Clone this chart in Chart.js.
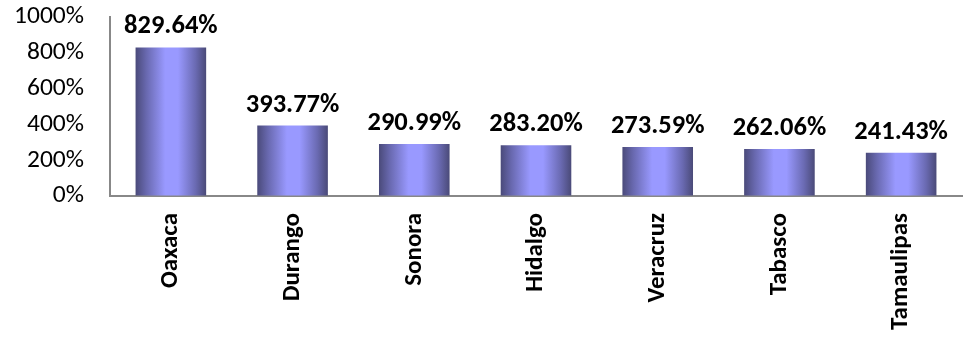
<!DOCTYPE html>
<html><head><meta charset="utf-8">
<script src="https://cdn.jsdelivr.net/npm/chart.js@4/dist/chart.umd.min.js"></script>
<style>html,body{margin:0;padding:0;background:#fff}#wrap{width:967px;height:338px;position:relative}</style>
</head><body><div id="wrap"><canvas id="c"></canvas></div>
<script>
const categories = ["Oaxaca","Durango","Sonora","Hidalgo","Veracruz","Tabasco","Tamaulipas"];
const values = [829.64, 393.77, 290.99, 283.20, 273.59, 262.06, 241.43];
const yTicks = [0, 200, 400, 600, 800, 1000];

const FONT = "Carlito, Calibri, Lato, 'Open Sans', sans-serif";
const BAR_PCT = 0.58;

// choose font sizes so that reference text widths are matched
const mctx = document.createElement('canvas').getContext('2d');
function fitSize(text, weight, targetW) {
  mctx.font = weight + " 100px " + FONT;
  return Math.round(100 * targetW / mctx.measureText(text).width * 2) / 2;
}
const TICK_SIZE = fitSize("1000%", "normal", 70);
const XLAB_SIZE = fitSize("Tamaulipas", "bold", 118);
const VAL_SIZE = fitSize("829.64%", "bold", 94);

function barGradient(ctx) {
  const chart = ctx.chart;
  const xs = chart.scales.x;
  if (!xs) return '#8888ee';
  const cx = xs.getPixelForValue(ctx.dataIndex);
  const w = xs.width / categories.length * BAR_PCT;
  if (!isFinite(cx) || !isFinite(w) || w <= 0) return '#8888ee';
  const g = chart.ctx.createLinearGradient(cx - w / 2, 0, cx + w / 2, 0);
  g.addColorStop(0, '#4a4a7a');
  g.addColorStop(0.15, '#6868ae');
  g.addColorStop(0.42, '#9999ff');
  g.addColorStop(0.6, '#9999ff');
  g.addColorStop(0.85, '#6a6ab2');
  g.addColorStop(1, '#4a4a78');
  return g;
}

const labelPlugin = {
  id: 'valueLabels',
  afterDatasetsDraw(chart) {
    const meta = chart.getDatasetMeta(0);
    const c = chart.ctx;
    c.save();
    c.font = "bold " + VAL_SIZE + "px " + FONT;
    c.fillStyle = '#000';
    c.textAlign = 'center';
    c.textBaseline = 'alphabetic';
    meta.data.forEach((el, i) => {
      c.fillText(values[i].toFixed(2) + '%', el.x, el.y - 14);
    });
    c.restore();
  }
};

new Chart(document.getElementById('c'), {
  type: 'bar',
  data: {
    labels: categories,
    datasets: [{
      data: values,
      backgroundColor: barGradient,
      borderWidth: 0,
      barPercentage: BAR_PCT,
      categoryPercentage: 1.0
    }]
  },
  options: {
    responsive: true,
    maintainAspectRatio: false,
    animation: false,
    layout: { padding: { top: 17, right: 5, left: 0, bottom: 0 } },
    plugins: { legend: { display: false }, tooltip: { enabled: false } },
    scales: {
      y: {
        min: 0, max: 1000,
        afterBuildTicks(s) { s.ticks = yTicks.map(v => ({ value: v })); },
        afterFit(s) { s.width = 110; },
        grid: { display: true, drawOnChartArea: false, drawTicks: true, tickLength: 26, tickColor: 'rgba(0,0,0,0)', color: 'rgba(0,0,0,0)' },
        border: { display: true, color: '#888888', width: 2 },
        ticks: {
          autoSkip: false,
          padding: 0,
          color: '#000',
          font: { family: FONT, size: TICK_SIZE },
          callback: v => v + '%'
        }
      },
      x: {
        afterFit(s) { s.height = 142; },
        grid: { display: false, drawTicks: false },
        border: { display: true, color: '#888888', width: 2 },
        ticks: {
          autoSkip: false,
          maxRotation: 90, minRotation: 90,
          padding: 17,
          color: '#000',
          font: { family: FONT, size: XLAB_SIZE, weight: 'bold' }
        }
      }
    }
  },
  plugins: [labelPlugin]
});
</script>
</body></html>
